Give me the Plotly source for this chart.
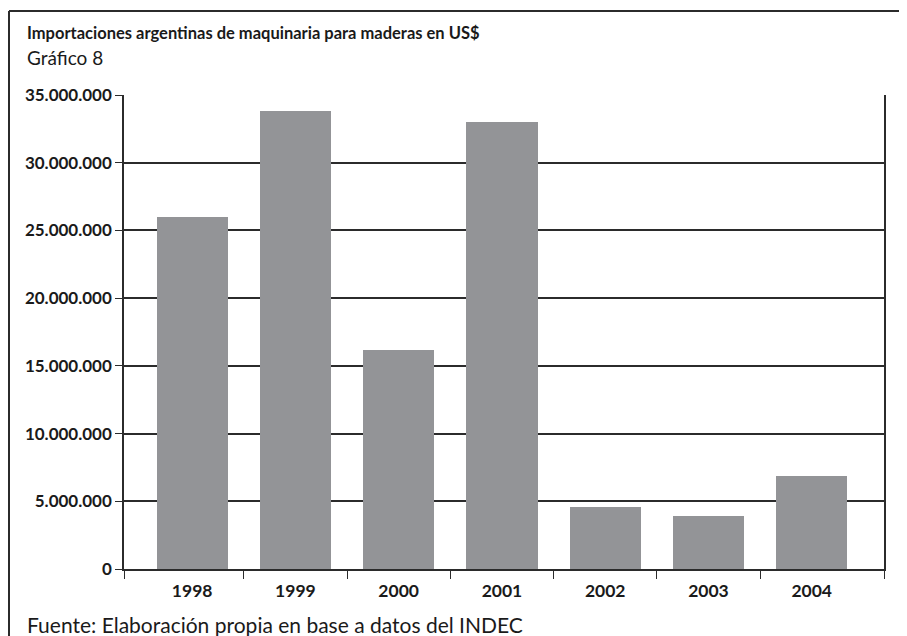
import plotly.graph_objects as go

# Datos del gráfico (US$)
years = ["1998", "1999", "2000", "2001", "2002", "2003", "2004"]
imports_usd = [26_000_000, 33_850_000, 16_200_000, 33_000_000, 4_550_000, 3_950_000, 6_900_000]

y_tick_values = [0, 5_000_000, 10_000_000, 15_000_000, 20_000_000, 25_000_000, 30_000_000, 35_000_000]
y_tick_labels = ["0", "5.000.000", "10.000.000", "15.000.000", "20.000.000",
                 "25.000.000", "30.000.000", "35.000.000"]

title_text = "Importaciones argentinas de maquinaria para maderas en US$"
subtitle_text = "Gráfico 8"
source_text = "Fuente: Elaboración propia en base a datos del INDEC"

FONT = "Lato, sans-serif"
DARK = "#2b2b2b"
TEXT = "#1a1a1a"

x_pos = list(range(len(years)))
x_min, x_max = -0.66, 6.70

# la página añade 8px de margen al body: el lienzo se reduce en esa medida
PAGE_PAD = 8

fig = go.Figure()
fig.add_trace(
    go.Bar(
        x=x_pos,
        y=imports_usd,
        width=0.69,
        marker=dict(color="#939497", line=dict(width=0)),
        hoverinfo="skip",
    )
)

fig.update_layout(
    width=907 - PAGE_PAD,
    height=636 - PAGE_PAD,
    margin=dict(l=124 - PAGE_PAD, r=23, t=95 - PAGE_PAD, b=67, autoexpand=False),
    paper_bgcolor="white",
    plot_bgcolor="white",
    showlegend=False,
    font=dict(family=FONT, color=DARK),
    bargap=0,
)

fig.update_xaxes(
    range=[x_min, x_max],
    tickmode="array",
    tickvals=x_pos,
    ticktext=years,
    ticks="",
    ticklabelstandoff=5,
    tickfont=dict(size=17.5, weight="bold", color=TEXT),
    showline=True,
    linecolor=DARK,
    linewidth=1.5,
    showgrid=False,
    zeroline=False,
    minor=dict(
        tickmode="array",
        tickvals=[x_min, 0.5, 1.5, 2.5, 3.5, 4.5, 5.5, x_max],
        ticks="outside",
        ticklen=8,
        tickwidth=1,
        tickcolor=DARK,
        showgrid=False,
    ),
)

fig.update_yaxes(
    range=[0, 35_000_000],
    tickmode="array",
    tickvals=y_tick_values,
    ticktext=y_tick_labels,
    ticks="outside",
    ticklen=7,
    tickwidth=1,
    tickcolor=DARK,
    tickfont=dict(size=17, weight="bold", color=TEXT),
    showline=True,
    linecolor=DARK,
    linewidth=1.5,
    mirror=True,
    showgrid=True,
    gridcolor=DARK,
    gridwidth=1.5,
    zeroline=False,
)

# Títulos y fuente
fig.add_annotation(
    text=title_text, xref="paper", yref="paper", x=-0.130, y=1.131,
    xanchor="left", yanchor="middle", showarrow=False,
    font=dict(size=16.5, weight="bold", color=TEXT),
)
fig.add_annotation(
    text=subtitle_text, xref="paper", yref="paper", x=-0.130, y=1.080,
    xanchor="left", yanchor="middle", showarrow=False,
    font=dict(size=19, color=TEXT),
)
fig.add_annotation(
    text=source_text, xref="paper", yref="paper", x=-0.130, y=-0.1165,
    xanchor="left", yanchor="middle", showarrow=False,
    font=dict(size=21, color=TEXT),
)

# Marco exterior (izquierda y arriba)
fig.add_shape(type="line", xref="paper", yref="paper",
              x0=(9 - 124) / 760, x1=(9 - 124) / 760,
              y0=(569 - 11) / 474, y1=(569 - 640) / 474,
              line=dict(color=DARK, width=2))
fig.add_shape(type="line", xref="paper", yref="paper",
              x0=(9 - 124) / 760, x1=(910 - 124) / 760,
              y0=(569 - 11) / 474, y1=(569 - 11) / 474,
              line=dict(color=DARK, width=2))

fig.write_html("out.html")
